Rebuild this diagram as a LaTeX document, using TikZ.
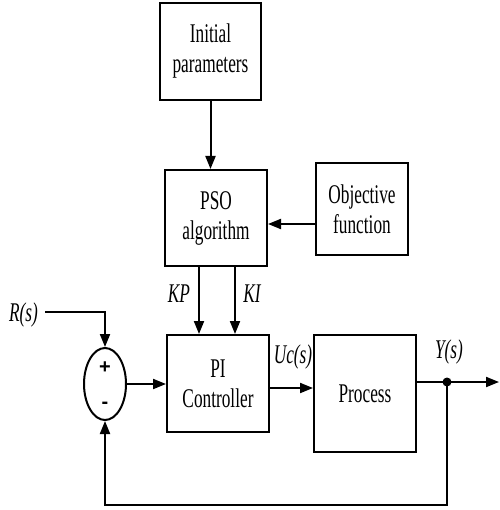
\documentclass[tikz,border=0pt]{standalone}
\usepackage{fontspec}
\setmainfont{Liberation Serif}[FakeStretch=0.64]
\newfontfamily\signfont{Liberation Sans}
\usetikzlibrary{arrows.meta,shapes.geometric}
\begin{document}
\begin{tikzpicture}[x=1pt,y=-1pt,
  box/.style={draw,line width=2pt,inner sep=0pt,align=center,font=\fontsize{27}{30}\selectfont},
  arr/.style={line width=2pt,-{Triangle[length=13pt,width=10pt]}},
  lbl/.style={font=\fontsize{27}{30}\selectfont\itshape,inner sep=0pt},
  sign/.style={font=\signfont\bfseries\fontsize{20}{22}\selectfont,inner sep=0pt}]
\useasboundingbox (0,0) rectangle (499,510);
\node[box,minimum width=101pt,minimum height=97pt] (init) at (210.5,51.5) {Initial\\parameters};
\node[box,minimum width=102pt,minimum height=96pt] (pso) at (216,218) {PSO\\algorithm};
\node[box,minimum width=92pt,minimum height=92pt] (obj) at (362,209) {Objective\\function};
\node[box,minimum width=102pt,minimum height=97pt] (pi) at (218,383.5) {PI\\Controller};
\node[box,minimum width=102pt,minimum height=117pt] (proc) at (365,393.5) {Process};
\node[draw,ellipse,line width=2pt,minimum width=42pt,minimum height=72pt,inner sep=0pt] (sum) at (105,384) {};
\node[sign] (plus) at (105,368) {+};
\node[sign] (minus) at (105,405) {-};
\node[lbl] (r) at (23.5,315) {R(s)};
\node[lbl] (kp) at (179,294) {KP};
\node[lbl] (ki) at (252,294) {KI};
\node[lbl] (uc) at (293,357) {Uc(s)};
\node[lbl] (y) at (449,352) {Y(s)};
\coordinate (rs) at (45,312);
\coordinate (out) at (499,382);
\coordinate (fb) at (447,505);
\fill (447,382) circle (4.5pt) coordinate (dot);
\draw[arr] (init.south) -- (init.south |- pso.north);
\draw[arr] ([yshift=-15pt]obj.west) -- ([yshift=-15pt]obj.west -| pso.east);
\draw[arr] ([xshift=-17pt]pso.south) -- ([xshift=-19pt]pi.north);
\draw[arr] ([xshift=19pt]pso.south) -- ([xshift=17pt]pi.north);
\draw[arr] (rs) -| (sum.north);
\draw[arr] (sum.east) -- (sum.east -| pi.west);
\draw[arr] ([yshift=-4.5pt]pi.east) -- ([yshift=-4.5pt]pi.east -| proc.west);
\draw[arr] (proc.east |- dot) -- (out);
\draw[arr] (dot) -- (fb) -| (sum.south);
\end{tikzpicture}
\end{document}
